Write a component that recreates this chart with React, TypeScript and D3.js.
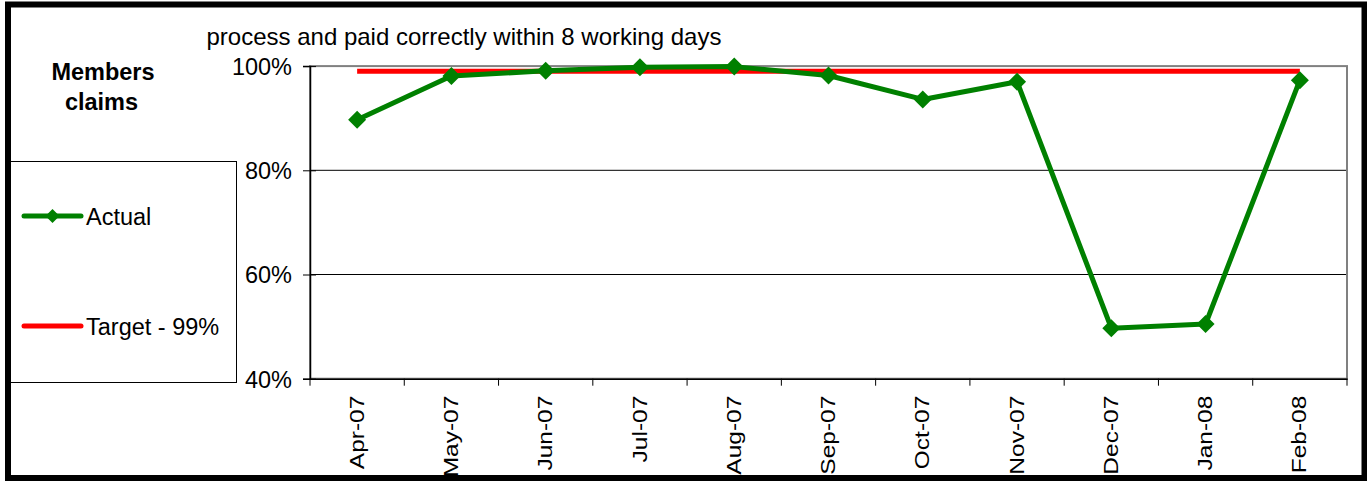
import { useRef, useEffect } from "react";
import * as d3 from "d3";

const months = ["Apr-07", "May-07", "Jun-07", "Jul-07", "Aug-07", "Sep-07", "Oct-07", "Nov-07", "Dec-07", "Jan-08", "Feb-08"];
const actual = [0.897, 0.981, 0.991, 0.998, 0.999, 0.982, 0.936, 0.970, 0.497, 0.505, 0.973];
const target = 0.99;
const yTicks = [0.4, 0.6, 0.8, 1.0];

const title = "process and paid correctly within 8 working days";
const FONT = "Arial, 'Liberation Sans', sans-serif";

const App = () => {
  const svgRef = useRef<SVGSVGElement>(null);

  useEffect(() => {
    const svg = d3.select(svgRef.current);
    svg.selectAll("*").remove();

    const width = 1367;
    const height = 481;
    const plot = { left: 310, right: 1347, top: 66.1, bottom: 378.7 };

    svg.attr("width", width).attr("height", height);

    const x = d3.scaleBand().domain(months).range([plot.left, plot.right]);
    const y = d3.scaleLinear().domain([0.4, 1.0]).range([plot.bottom, plot.top]);
    const cx = (m: string) => (x(m) as number) + x.bandwidth() / 2;

    // outer frame
    svg
      .append("rect")
      .attr("x", 8)
      .attr("y", 4.5)
      .attr("width", 1356.5)
      .attr("height", 473.5)
      .attr("fill", "white")
      .attr("stroke", "black")
      .attr("stroke-width", 6);

    // title + side label
    svg
      .append("text")
      .attr("x", 206.5)
      .attr("y", 44.5)
      .attr("font-family", FONT)
      .attr("font-size", 24)
      .text(title);

    const side = svg
      .append("text")
      .attr("font-family", FONT)
      .attr("font-size", 23.5)
      .attr("font-weight", "bold")
      .attr("text-anchor", "middle");
    side.append("tspan").attr("x", 103).attr("y", 80).text("Members");
    side.append("tspan").attr("x", 101.5).attr("y", 110).text("claims");

    // gridlines
    svg
      .append("g")
      .selectAll("line")
      .data([0.6, 0.8])
      .join("line")
      .attr("x1", plot.left)
      .attr("x2", plot.right)
      .attr("y1", (d) => y(d))
      .attr("y2", (d) => y(d))
      .attr("stroke", "#000")
      .attr("stroke-width", 1);

    // plot area border (gray)
    svg
      .append("rect")
      .attr("x", plot.left)
      .attr("y", plot.top)
      .attr("width", plot.right - plot.left)
      .attr("height", plot.bottom - plot.top)
      .attr("fill", "none")
      .attr("stroke", "#808080")
      .attr("stroke-width", 2);

    // y axis
    const yAxis = svg
      .append("g")
      .attr("transform", `translate(${plot.left},0)`)
      .call(
        d3
          .axisLeft(y)
          .tickValues(yTicks)
          .tickSize(7)
          .tickFormat((d) => d3.format(".0%")(d as number))
      );
    yAxis.select(".domain").attr("stroke", "#000").attr("stroke-width", 1.5);
    yAxis.selectAll(".tick line").attr("x1", 6).attr("x2", -7).attr("stroke", "#000");
    yAxis
      .selectAll(".tick text")
      .attr("x", -18)
      .attr("dy", "0.36em")
      .attr("font-family", FONT)
      .attr("font-size", 23.5)
      .attr("fill", "#000");

    // x axis
    const xAxis = svg
      .append("g")
      .attr("transform", `translate(0,${plot.bottom})`)
      .call(d3.axisBottom(x).tickSize(0).tickSizeOuter(0));
    xAxis.select(".domain").attr("stroke", "#000").attr("stroke-width", 1.5);
    xAxis
      .selectAll(".tick text")
      .attr("font-family", FONT)
      .attr("font-size", 24.5)
      .attr("fill", "#000")
      .attr("text-anchor", "end")
      .attr("y", 0)
      .attr("dy", 0)
      .attr("transform", "translate(1,17) rotate(-90) scale(1,0.8) translate(0,7)");

    const boundaries = months.map((m) => x(m) as number).concat([plot.right]);
    xAxis
      .append("g")
      .selectAll("line")
      .data(boundaries)
      .join("line")
      .attr("x1", (d) => d)
      .attr("x2", (d) => d)
      .attr("y1", 0)
      .attr("y2", 7)
      .attr("stroke", "#000")
      .attr("stroke-width", 1);

    // target line
    svg
      .append("line")
      .attr("x1", cx(months[0]))
      .attr("x2", cx(months[months.length - 1]))
      .attr("y1", y(target))
      .attr("y2", y(target))
      .attr("stroke", "#ff0000")
      .attr("stroke-width", 5);

    // actual series
    const line = d3
      .line<number>()
      .x((_, i) => cx(months[i]))
      .y((d) => y(d));

    svg
      .append("path")
      .datum(actual)
      .attr("d", line)
      .attr("fill", "none")
      .attr("stroke", "#008000")
      .attr("stroke-width", 5)
      .attr("stroke-linejoin", "round");

    const diamond = (r: number) => `M0,${-r}L${r},0L0,${r}L${-r},0Z`;

    svg
      .append("g")
      .selectAll("path")
      .data(actual)
      .join("path")
      .attr("transform", (d, i) => `translate(${cx(months[i])},${y(d)})`)
      .attr("d", diamond(9))
      .attr("fill", "#008000");

    // legend
    const legend = svg.append("g");
    legend
      .append("rect")
      .attr("x", 10.5)
      .attr("y", 161.5)
      .attr("width", 226)
      .attr("height", 221)
      .attr("fill", "white")
      .attr("stroke", "#000")
      .attr("stroke-width", 1);

    legend
      .append("line")
      .attr("x1", 24)
      .attr("x2", 81)
      .attr("y1", 216)
      .attr("y2", 216)
      .attr("stroke", "#008000")
      .attr("stroke-width", 5)
      .attr("stroke-linecap", "round");
    legend
      .append("path")
      .attr("transform", "translate(52.5,216)")
      .attr("d", diamond(7))
      .attr("fill", "#008000");
    legend
      .append("text")
      .attr("x", 86)
      .attr("y", 225)
      .attr("font-family", FONT)
      .attr("font-size", 23.5)
      .text("Actual");

    legend
      .append("line")
      .attr("x1", 24)
      .attr("x2", 81)
      .attr("y1", 326)
      .attr("y2", 326)
      .attr("stroke", "#ff0000")
      .attr("stroke-width", 5)
      .attr("stroke-linecap", "round");
    legend
      .append("text")
      .attr("x", 86)
      .attr("y", 335)
      .attr("font-family", FONT)
      .attr("font-size", 23.5)
      .text("Target - 99%");
  }, []);

  return (
    <svg
      ref={svgRef}
      style={{ position: "absolute", left: 0, top: 0, display: "block" }}
    ></svg>
  );
};

export default App;
